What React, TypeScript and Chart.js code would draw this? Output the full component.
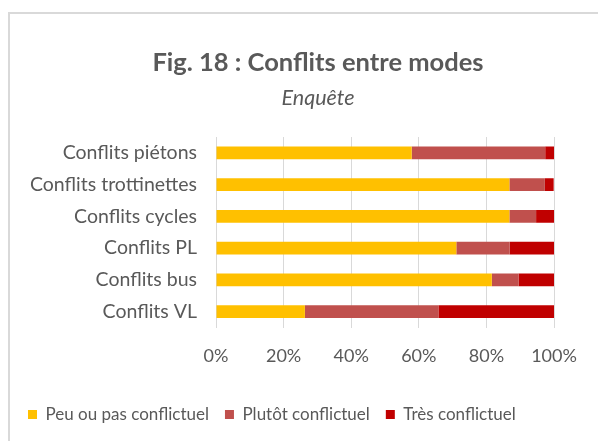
import React, { useEffect, useRef } from "react";
import { Chart, registerables } from "chart.js";

Chart.register(...registerables);

const categories = [
  "Conflits piétons",
  "Conflits trottinettes",
  "Conflits cycles",
  "Conflits PL",
  "Conflits bus",
  "Conflits VL",
];
const peuOuPas = [57.9, 86.8, 86.8, 71.1, 81.6, 26.3];
const plutot = [39.5, 10.5, 7.9, 15.8, 7.9, 39.5];
const tres = [2.6, 2.6, 5.3, 13.2, 10.5, 34.2];
const seriesNames = ["Peu ou pas conflictuel", "Plutôt conflictuel", "Très conflictuel"];
const seriesColors = ["#FFC000", "#C0504D", "#C00000"];
const xTicks = [0, 20, 40, 60, 80, 100];

const FONT = "Lato, 'Open Sans', sans-serif";
const TEXT = "#595959";

export default function App() {
  const ref = useRef<HTMLCanvasElement | null>(null);

  useEffect(() => {
    document.body.style.overflow = "hidden";
    document.documentElement.style.overflow = "hidden";
    const canvas = ref.current;
    if (!canvas) return;
    const chart = new Chart(canvas, {
      type: "bar",
      data: {
        labels: categories,
        datasets: [peuOuPas, plutot, tres].map((d, i) => ({
          label: seriesNames[i],
          data: d,
          backgroundColor: seriesColors[i],
          borderWidth: 0,
          barPercentage: 0.4,
          categoryPercentage: 1,
        })),
      },
      options: {
        indexAxis: "y",
        responsive: false,
        animation: false,
        maintainAspectRatio: false,
        layout: { padding: { left: 2, right: 0, top: 0, bottom: 0 } },
        plugins: {
          title: {
            display: true,
            text: "Fig. 18 : Conflits entre modes",
            color: TEXT,
            font: { family: FONT, size: 25.5, weight: "bold", lineHeight: 1.2 },
            padding: { top: 33.7, bottom: 0 },
          },
          subtitle: {
            display: true,
            text: "Enquête",
            color: TEXT,
            font: { family: FONT, size: 21.5, style: "italic", lineHeight: 1.2 },
            padding: { top: 6.8, bottom: 26.1 },
          },
          legend: {
            display: true,
            position: "bottom",
            align: "start",
            labels: {
              color: TEXT,
              font: { family: FONT, size: 17 },
              boxWidth: 9,
              boxHeight: 9,
              padding: 16,
            },
          },
          tooltip: { enabled: false },
        },
        scales: {
          x: {
            stacked: true,
            min: 0,
            max: 100,
            afterBuildTicks: (s: any) => {
              s.ticks = xTicks.map((v) => ({ value: v }));
            },
            afterFit: (s: any) => {
              s.height = 62.5;
            },
            ticks: {
              color: TEXT,
              font: { family: FONT, size: 18, lineHeight: 1.2 },
              padding: 18,
              callback: (v: any) => v + "%",
            },
            grid: { color: "#D9D9D9", lineWidth: 1, drawTicks: false },
            border: { display: false },
          },
          y: {
            stacked: true,
            afterFit: (s: any) => {
              s.width = 204;
            },
            ticks: {
              color: TEXT,
              font: { family: FONT, size: 19.5 },
              padding: 19,
            },
            grid: { display: false, drawTicks: false },
            border: { display: false },
          },
          spacer: {
            type: "linear",
            position: "right",
            display: true,
            afterFit: (s: any) => {
              s.width = 70;
            },
            ticks: { display: false },
            grid: { display: false, drawTicks: false },
            border: { display: false },
          },
        },
      },
    });
    return () => chart.destroy();
  }, []);

  return (
    <div
      style={{
        marginTop: 4,
        width: 640,
        height: 460,
        border: "2px solid #D9D9D9",
        borderRight: "none",
        borderBottom: "none",
        background: "#fff",
        boxSizing: "border-box",
      }}
    >
      <canvas ref={ref} width={614} height={419} style={{ display: "block" }} />
    </div>
  );
}
